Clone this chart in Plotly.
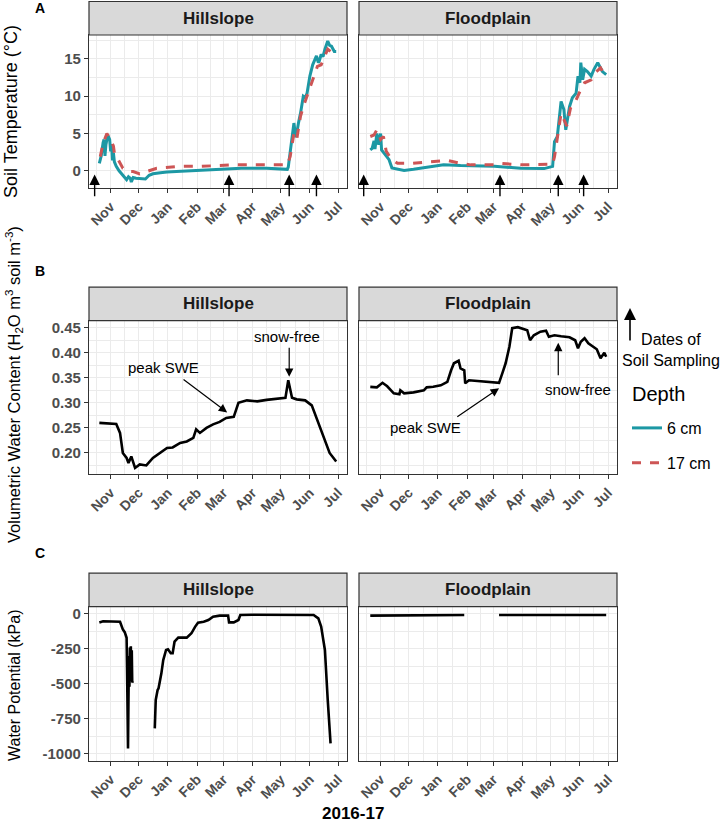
import plotly.graph_objects as go
import pandas as pd

# ---------------- DATA ----------------
# Panel A: soil temperature (deg C)
hs_t6_dates = ['2016-10-20','2016-10-22','2016-10-24','2016-10-25','2016-10-26','2016-10-27','2016-10-29','2016-10-31',
               '2016-11-01','2016-11-02','2016-11-03','2016-11-04','2016-11-05','2016-11-07','2016-11-10','2016-11-14',
               '2016-11-18','2016-11-20','2016-11-22','2016-11-23','2016-11-25','2016-11-28','2016-12-03','2016-12-08',
               '2016-12-12','2016-12-16','2016-12-24','2016-12-31','2017-01-15','2017-01-31','2017-02-15','2017-03-04',
               '2017-03-20','2017-04-16','2017-05-01','2017-05-08','2017-05-09','2017-05-10','2017-05-12','2017-05-13',
               '2017-05-14','2017-05-15','2017-05-17','2017-05-18','2017-05-20','2017-05-22','2017-05-25','2017-05-27',
               '2017-05-29','2017-06-01','2017-06-04','2017-06-05','2017-06-08','2017-06-10','2017-06-11','2017-06-13',
               '2017-06-15','2017-06-17','2017-06-20','2017-06-22','2017-06-24','2017-06-27','2017-06-29']
hs_t6 = [1.0, 2.0, 3.8, 4.2, 2.0, 3.5, 4.8, 4.2,
         2.6, 3.6, 1.4, 2.4, 1.2, 0.6, 0.0, -0.6,
         -1.2, -0.8, -1.0, -1.5, -0.9, -1.0, -1.0, -1.1,
         -0.6, -0.4, -0.25, -0.15, -0.05, 0.05, 0.15, 0.3,
         0.35, 0.35, 0.3, 0.2, 0.5, 1.5, 3.0, 3.7,
         5.5, 6.4, 4.5, 5.0, 6.5, 7.7, 10.0, 9.8,
         10.4, 12.7, 14.2, 14.5, 15.4, 14.5, 14.7, 15.6,
         15.3, 16.3, 17.4, 16.8, 16.7, 16.0, 16.0]

hs_t17_dates = ['2016-10-21','2016-10-24','2016-10-28','2016-11-01','2016-11-04','2016-11-05','2016-11-09','2016-11-14',
                '2016-11-20','2016-11-25','2016-12-02','2016-12-09','2016-12-20','2017-01-14','2017-02-04','2017-03-12',
                '2017-05-08','2017-05-11','2017-05-15','2017-05-18','2017-05-22','2017-05-25','2017-05-29','2017-06-01',
                '2017-06-06','2017-06-09','2017-06-13','2017-06-17','2017-06-20','2017-06-25','2017-06-29']
hs_t17 = [1.9, 3.7, 5.0, 4.2, 3.3, 2.4, 1.5, 0.35,
          -0.1, -0.1, -0.4, -0.1, 0.35, 0.6, 0.6, 0.8,
          0.8, 1.9, 5.0, 4.2, 7.3, 8.6, 10.0, 11.3,
          13.1, 14.0, 14.2, 15.4, 16.3, 15.8, 15.4]

fp_t6_dates = ['2016-10-21','2016-10-23','2016-10-25','2016-10-26','2016-10-28','2016-10-29','2016-10-30','2016-11-01',
               '2016-11-02','2016-11-04','2016-11-06','2016-11-10','2016-11-13','2016-11-19','2016-11-26','2016-12-06',
               '2016-12-20','2017-01-07','2017-01-25','2017-02-15','2017-03-02','2017-03-30','2017-04-24','2017-05-03',
               '2017-05-05','2017-05-08','2017-05-12','2017-05-15','2017-05-17','2017-05-21','2017-05-24','2017-05-28',
               '2017-05-30','2017-06-01','2017-06-02','2017-06-04','2017-06-06','2017-06-09','2017-06-13','2017-06-16',
               '2017-06-20','2017-06-25','2017-06-29']
fp_t6 = [2.8, 3.0, 4.0, 2.9, 5.0, 4.5, 3.5, 5.0,
         2.8, 2.5, 2.2, 1.5, 0.4, 0.2, 0.05, 0.2,
         0.5, 0.8, 0.7, 0.65, 0.6, 0.35, 0.3, 0.6,
         3.9, 4.6, 9.3, 8.2, 5.5, 8.6, 9.8, 10.4,
         12.7, 11.8, 14.5, 12.2, 13.6, 13.3, 12.7, 13.6,
         14.5, 13.3, 12.9]

fp_t17_dates = ['2016-10-21','2016-10-25','2016-10-28','2016-11-01','2016-11-04','2016-11-07','2016-11-13','2016-11-19',
                '2016-12-04','2016-12-27','2017-01-11','2017-01-25','2017-02-05','2017-03-02','2017-03-09','2017-03-30',
                '2017-05-03','2017-05-05','2017-05-08','2017-05-12','2017-05-15','2017-05-18','2017-05-22','2017-05-28',
                '2017-06-02','2017-06-06','2017-06-13','2017-06-17','2017-06-23','2017-06-29']
fp_t17 = [4.6, 4.8, 5.5, 4.2, 4.6, 2.6, 1.5, 1.0,
          1.0, 1.25, 1.4, 1.0, 0.8, 0.8, 1.0, 0.8,
          0.9, 1.9, 4.2, 7.7, 6.9, 6.0, 8.4, 9.5,
          10.9, 11.8, 12.2, 13.1, 13.8, 12.5]

# Soil sampling dates (arrows)
hs_sampling = ['2016-10-15', '2017-03-07', '2017-05-10', '2017-06-08']
fp_sampling = ['2016-10-14', '2017-03-08', '2017-05-09', '2017-06-05']

# Panel B: volumetric water content
hs_vwc_dates = ['2016-10-20','2016-11-07','2016-11-11','2016-11-14','2016-11-18','2016-11-20','2016-11-23','2016-11-27',
                '2016-12-02','2016-12-09','2016-12-16','2016-12-23','2016-12-31','2017-01-06','2017-01-14','2017-01-21',
                '2017-01-28','2017-01-31','2017-02-04','2017-02-11','2017-02-18','2017-02-25','2017-03-04','2017-03-12',
                '2017-03-17','2017-03-26','2017-04-06','2017-04-16','2017-04-30','2017-05-06','2017-05-09','2017-05-13',
                '2017-05-18','2017-05-27','2017-06-03','2017-06-08','2017-06-17','2017-06-22','2017-06-29']
hs_vwc = [0.260, 0.258, 0.240, 0.200, 0.190, 0.180, 0.193, 0.170,
          0.177, 0.175, 0.190, 0.200, 0.210, 0.211, 0.220, 0.223,
          0.230, 0.247, 0.240, 0.250, 0.257, 0.262, 0.270, 0.272,
          0.300, 0.305, 0.303, 0.306, 0.308, 0.310, 0.345, 0.310,
          0.307, 0.305, 0.295, 0.270, 0.227, 0.200, 0.183]

fp_vwc_dates = ['2016-10-21','2016-10-28','2016-11-03','2016-11-08','2016-11-15','2016-11-21','2016-11-22','2016-11-26',
                '2016-12-06','2016-12-17','2016-12-20','2016-12-27','2017-01-04','2017-01-11','2017-01-15','2017-01-18',
                '2017-01-23','2017-01-25','2017-01-29','2017-01-30','2017-02-03','2017-02-15','2017-03-02','2017-03-07',
                '2017-03-11','2017-03-14','2017-03-18','2017-03-21','2017-03-27','2017-04-03','2017-04-06','2017-04-09',
                '2017-04-13','2017-04-20','2017-04-26','2017-04-29','2017-05-05','2017-05-12','2017-05-21','2017-05-27',
                '2017-05-30','2017-06-02','2017-06-06','2017-06-10','2017-06-16','2017-06-19','2017-06-23','2017-06-27',
                '2017-06-29']
fp_vwc = [0.332, 0.331, 0.340, 0.333, 0.319, 0.317, 0.325, 0.319,
          0.321, 0.325, 0.331, 0.332, 0.335, 0.342, 0.365, 0.379,
          0.384, 0.369, 0.365, 0.339, 0.345, 0.343, 0.342, 0.340,
          0.362, 0.379, 0.412, 0.449, 0.451, 0.447, 0.445, 0.425,
          0.435, 0.442, 0.444, 0.432, 0.435, 0.433, 0.431, 0.425,
          0.409, 0.422, 0.429, 0.419, 0.412, 0.407, 0.389, 0.400,
          0.392]

# Panel C: water potential (kPa); None = gap in record
hs_wp_dates = ['2016-10-20','2016-10-24','2016-11-11','2016-11-14','2016-11-16','2016-11-18',
               '2016-11-18 12:00','2016-11-19','2016-11-19 12:00','2016-11-20','2016-11-20 12:00','2016-11-21',
               '2016-11-21 12:00','2016-11-22','2016-11-22 12:00','2016-11-23','2016-11-23 12:00','2016-11-24',
               '2016-11-24 12:00','2016-12-05','2016-12-18','2016-12-19',
               '2016-12-21','2016-12-22','2016-12-25','2016-12-27','2016-12-30','2017-01-01','2017-01-04','2017-01-06',
               '2017-01-08','2017-01-12','2017-01-21','2017-01-26','2017-01-30','2017-02-02','2017-02-08','2017-02-13',
               '2017-02-18','2017-02-25','2017-03-06','2017-03-07','2017-03-12','2017-03-17','2017-03-19','2017-04-01',
               '2017-06-05','2017-06-10','2017-06-13','2017-06-17','2017-06-20','2017-06-23']
hs_wp = [-60, -52, -55, -110, -130, -170,
         -400, -700, -960, -600, -300, -520,
         -240, -450, -230, -480, -260, -490,
         -480, None, -817, -614,
         -543, -531, -424, -329, -257, -252, -281, -281,
         -198, -169, -169, -138, -90, -62, -55, -43,
         -19, -12, -12, -60, -60, -43, -7, -5,
         -7, -31, -90, -257, -614, -924]

fp_wp_dates = ['2016-10-21', '2016-12-20', '2016-12-21', '2017-01-29', '2017-02-15', '2017-03-07', '2017-06-29']
fp_wp = [-12, -12, -7, -7, None, -7, -7]

# Axis ticks
month_breaks = ['2016-11-01','2016-12-01','2017-01-01','2017-02-01','2017-03-01',
                '2017-04-01','2017-05-01','2017-06-01','2017-07-01']
month_labels = ['Nov','Dec','Jan','Feb','Mar','Apr','May','Jun','Jul']
temp_ticks = [0, 5, 10, 15]
vwc_ticks = [0.20, 0.25, 0.30, 0.35, 0.40, 0.45]
wp_ticks = [0, -250, -500, -750, -1000]
wp_labels = ['0', '-250', '-500', '-750', '-1000']
facets = ['Hillslope', 'Floodplain']

# ---------------- LAYOUT HELPERS ----------------
W, H = 723, 825
FONT = 'Liberation Sans, Arial, sans-serif'
TEAL = '#1C98A4'
RED = '#CD5555'
GRID = '#EBEBEB'
FRAME = '#333333'

def fx(p):
    return p / W

def fy(p):
    return 1 - p / H

col_px = [(89, 347), (359, 617)]
row_px = {'A': (35, 188), 'B': (320.7, 474), 'C': (606.7, 760.7)}
strip_h = 33.5
xrange_ = ['2016-10-09', '2017-07-10 12:00']

# minor breaks: midpoints between month breaks (incl. one before the first)
mb = pd.to_datetime(['2016-10-01'] + month_breaks)
minor_x = [(mb[i] + (mb[i + 1] - mb[i]) / 2).strftime('%Y-%m-%d %H:%M') for i in range(len(mb) - 1)]


def minor_vals(ticks):
    t = sorted(ticks)
    step = t[1] - t[0]
    ext = [t[0] - step] + t + [t[-1] + step]
    return [(ext[i] + ext[i + 1]) / 2 for i in range(len(ext) - 1)]


fig = go.Figure()

rows = [
    ('A', [(hs_t6_dates, hs_t6, hs_t17_dates, hs_t17), (fp_t6_dates, fp_t6, fp_t17_dates, fp_t17)],
     [-2.3, 18.2], temp_ticks, [str(v) for v in temp_ticks]),
    ('B', [(hs_vwc_dates, hs_vwc), (fp_vwc_dates, fp_vwc)],
     [0.158, 0.464], vwc_ticks, ['%.2f' % v for v in vwc_ticks]),
    ('C', [(hs_wp_dates, hs_wp), (fp_wp_dates, fp_wp)],
     [-1048, 52], wp_ticks, wp_labels),
]


def text_ann(x, y, text, font, **kw):
    fig.add_annotation(x=x, y=y, text=text, showarrow=False, font=font,
                       xanchor='center', yanchor='middle', **kw)


axis_i = 0
for rlabel, series, yr, yt, ytt in rows:
    top, bot = row_px[rlabel]
    for ci in range(2):
        axis_i += 1
        xa = 'x' if axis_i == 1 else 'x%d' % axis_i
        ya = 'y' if axis_i == 1 else 'y%d' % axis_i
        s = series[ci]
        if rlabel == 'A':
            fig.add_trace(go.Scatter(x=s[0], y=s[1], mode='lines', name='6 cm',
                                     line=dict(color=TEAL, width=3), xaxis=xa, yaxis=ya,
                                     legendgroup='g6', showlegend=(ci == 0)))
            fig.add_trace(go.Scatter(x=s[2], y=s[3], mode='lines', name='17 cm',
                                     line=dict(color=RED, width=3, dash='dash'), xaxis=xa, yaxis=ya,
                                     legendgroup='g17', showlegend=(ci == 0)))
        else:
            fig.add_trace(go.Scatter(x=s[0], y=s[1], mode='lines', line=dict(color='black', width=2.6),
                                     xaxis=xa, yaxis=ya, showlegend=False, connectgaps=False))
        x0, x1 = col_px[ci]
        xkey = 'xaxis' if axis_i == 1 else 'xaxis%d' % axis_i
        ykey = 'yaxis' if axis_i == 1 else 'yaxis%d' % axis_i
        fig.layout[xkey] = dict(
            domain=[fx(x0), fx(x1)], anchor=ya, type='date', range=xrange_, automargin=False,
            tickmode='array', tickvals=month_breaks, ticktext=month_labels, tickangle=-45,
            tickfont=dict(family=FONT, size=14, color='#4D4D4D', weight='bold'),
            ticks='outside', ticklen=4, tickcolor=FRAME, tickwidth=1,
            showgrid=True, gridcolor=GRID, gridwidth=1.1,
            minor=dict(tickmode='array', tickvals=minor_x, showgrid=True, gridcolor=GRID, gridwidth=0.6, ticks=''),
            showline=True, mirror=True, linecolor=FRAME, linewidth=1.2, zeroline=False,
        )
        fig.layout[ykey] = dict(
            domain=[fy(bot), fy(top)], anchor=xa, range=yr, automargin=False,
            tickmode='array', tickvals=yt, ticktext=ytt,
            tickfont=dict(family=FONT, size=15, color='#4D4D4D', weight='bold'),
            ticks='outside' if ci == 0 else '', ticklen=4, tickcolor=FRAME, tickwidth=1,
            showticklabels=(ci == 0),
            showgrid=True, gridcolor=GRID, gridwidth=1.1,
            minor=dict(tickmode='array', tickvals=minor_vals(yt), showgrid=True, gridcolor=GRID, gridwidth=0.6, ticks=''),
            showline=True, mirror=True, linecolor=FRAME, linewidth=1.2, zeroline=False,
        )
        # strip
        fig.add_shape(type='rect', xref='paper', yref='paper', x0=fx(x0), x1=fx(x1),
                      y0=fy(top), y1=fy(top - strip_h), fillcolor='#D9D9D9',
                      line=dict(color=FRAME, width=1.2), layer='above')
        text_ann(fx((x0 + x1) / 2), fy(top - strip_h / 2), '<b>%s</b>' % facets[ci],
                 dict(family=FONT, size=17, color='#1A1A1A'), xref='paper', yref='paper')

# sampling arrows in panel A
for xa, ya, dates in [('x', 'y', hs_sampling), ('x2', 'y2', fp_sampling)]:
    for d in dates:
        fig.add_annotation(x=d, y=-0.5, ax=d, ay=-3.6, xref=xa, yref=ya, axref=xa, ayref=ya,
                           text='', showarrow=True, arrowhead=2, arrowsize=1.5, arrowwidth=1.4,
                           arrowcolor='black')

# panel B annotations
ann_font = dict(family=FONT, size=15, color='black')
def arrow(xref, yref, tip, tail):
    fig.add_annotation(x=tip[0], y=tip[1], ax=tail[0], ay=tail[1], xref=xref, yref=yref,
                       axref=xref, ayref=yref, text='', showarrow=True, arrowhead=2,
                       arrowsize=1.4, arrowwidth=1.2, arrowcolor='black')

text_ann('2016-12-27', 0.371, 'peak SWE', ann_font, xref='x3', yref='y3')
arrow('x3', 'y3', ('2017-03-05', 0.281), ('2017-01-16', 0.349))
text_ann('2017-05-08', 0.432, 'snow-free', ann_font, xref='x3', yref='y3')
arrow('x3', 'y3', ('2017-05-10', 0.352), ('2017-05-10', 0.413))
text_ann('2016-12-19', 0.251, 'peak SWE', ann_font, xref='x4', yref='y4')
arrow('x4', 'y4', ('2017-03-07', 0.329), ('2017-01-20', 0.270))
text_ann('2017-05-30', 0.327, 'snow-free', ann_font, xref='x4', yref='y4')
arrow('x4', 'y4', ('2017-05-09', 0.420), ('2017-05-09', 0.352))

# panel letters
for lab, (xp, ypx) in {'A': (40, 8), 'B': (40, 271), 'C': (40, 553)}.items():
    text_ann(fx(xp), fy(ypx), '<b>%s</b>' % lab, dict(family=FONT, size=14, color='black'),
             xref='paper', yref='paper')

# axis titles
text_ann(fx(11), fy(112), 'Soil Temperature (°C)', dict(family=FONT, size=18, color='black'),
         xref='paper', yref='paper', textangle=-90)
text_ann(fx(14), fy(385), 'Volumetric Water Content (H<sub>2</sub>O m<sup>3</sup> soil m<sup>-3</sup>)',
         dict(family=FONT, size=16.5, color='black'), xref='paper', yref='paper', textangle=-90)
text_ann(fx(14), fy(686), 'Water Potential (kPa)', dict(family=FONT, size=16, color='black'),
         xref='paper', yref='paper', textangle=-90)
text_ann(fx(353), fy(813), '<b>2016-17</b>', dict(family=FONT, size=17, color='black'),
         xref='paper', yref='paper')

# "Dates of Soil Sampling" key
fig.add_annotation(x=fx(630), y=fy(308), xref='paper', yref='paper', ax=0, ay=34, text='',
                   showarrow=True, arrowhead=2, arrowsize=1.5, arrowwidth=1.6, arrowcolor='black')
text_ann(fx(671), fy(350), 'Dates of<br>Soil Sampling', dict(family=FONT, size=16, color='black'),
         xref='paper', yref='paper', align='center')

# legend title
fig.add_annotation(x=fx(630), y=fy(394), xref='paper', yref='paper', text='Depth', showarrow=False,
                   xanchor='left', yanchor='middle', font=dict(family=FONT, size=20, color='black'))

fig.update_layout(
    width=W, height=H, margin=dict(l=0, r=0, t=0, b=0, autoexpand=False),
    paper_bgcolor='white', plot_bgcolor='white',
    font=dict(family=FONT),
    legend=dict(x=fx(627), y=fy(411), xanchor='left', yanchor='top', traceorder='grouped',
                font=dict(family=FONT, size=16, color='black'), tracegroupgap=11,
                bgcolor='rgba(0,0,0,0)'),
)

fig.write_html('out.html', post_script="document.body.style.margin='0';",
               config={'displayModeBar': False})
